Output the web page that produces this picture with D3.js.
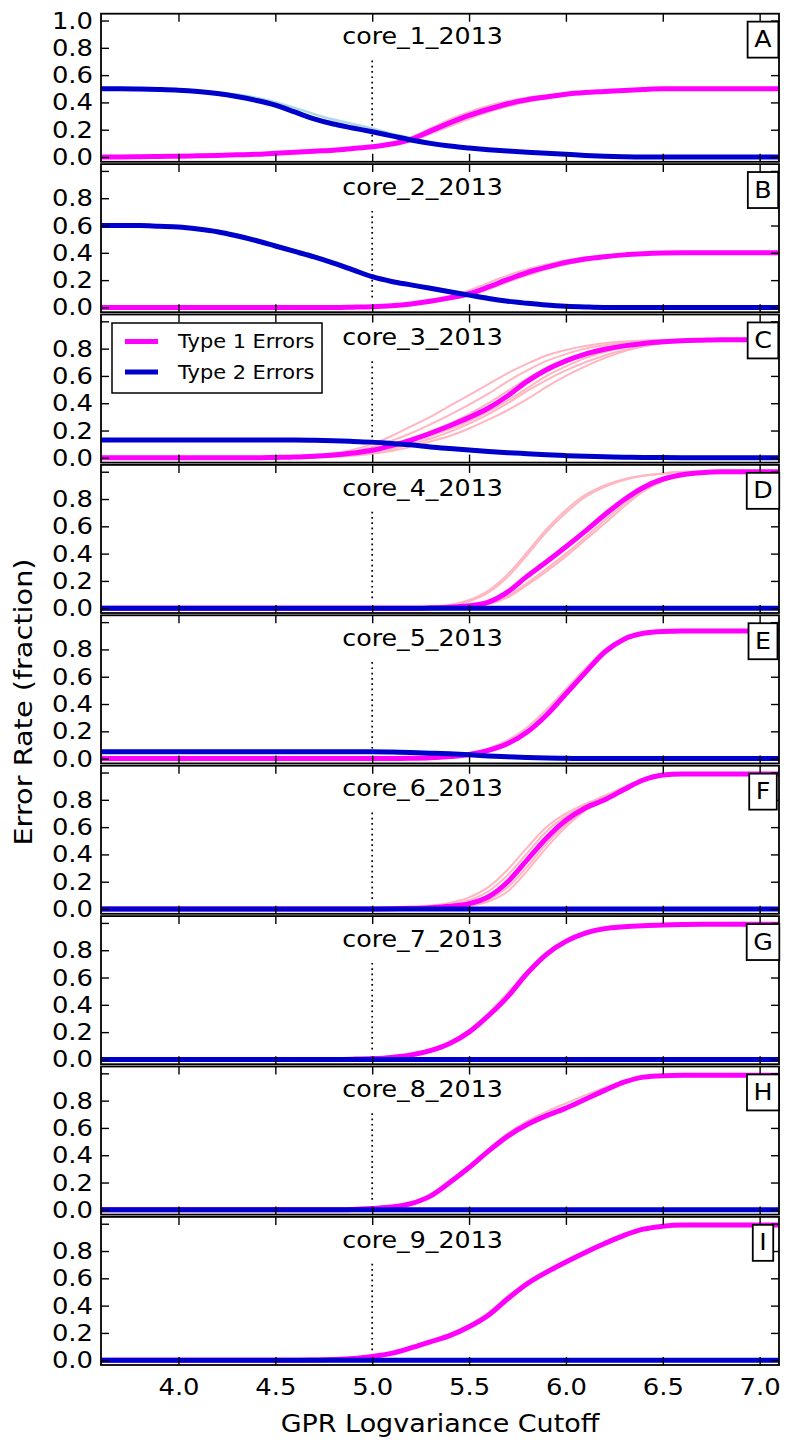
<!DOCTYPE html>
<html><head><meta charset="utf-8">
<script src="https://cdn.jsdelivr.net/npm/d3@7"></script>
<style>body{margin:0;background:#fff} text{font-family:"DejaVu Sans","Bitstream Vera Sans",sans-serif;fill:#000}</style>
</head><body><svg id="c" width="787" height="1445"></svg>
<script>
// ---------------- DATA ----------------
const xs = [3.6,3.7,3.8,3.9,4.0,4.1,4.2,4.3,4.4,4.5,4.6,4.7,4.8,4.9,5.0,5.1,5.2,5.3,5.4,5.5,5.6,5.7,5.8,5.9,6.0,6.1,6.2,6.3,6.4,6.5,6.6,6.7,6.8,6.9,7.0,7.1];
const panelTitles = ["core_1_2013","core_2_2013","core_3_2013","core_4_2013","core_5_2013","core_6_2013","core_7_2013","core_8_2013","core_9_2013"];
const panelLetters = ["A","B","C","D","E","F","G","H","I"];
const yTicks = [0,0.2,0.4,0.6,0.8,1.0];
const xTicks = [4.0,4.5,5.0,5.5,6.0,6.5,7.0];
const cutoff = 5.0;
const legendLabels = ["Type 1 Errors","Type 2 Errors"];
const xLabel = "GPR Logvariance Cutoff";
const yLabel = "Error Rate (fraction)";

// core_1
const core1Type1 = [0,0.001,0.002,0.004,0.006,0.009,0.012,0.016,0.02,0.028,0.035,0.043,0.05,0.062,0.075,0.095,0.13,0.19,0.25,0.305,0.35,0.39,0.42,0.44,0.46,0.472,0.48,0.488,0.495,0.5,0.5,0.5,0.5,0.5,0.5,0.5];
const core1Type2 = [0.5,0.5,0.498,0.495,0.49,0.48,0.465,0.443,0.415,0.38,0.33,0.28,0.242,0.213,0.185,0.155,0.125,0.1,0.08,0.066,0.054,0.044,0.035,0.027,0.02,0.012,0.006,0.002,0,0,0,0,0,0,0,0];
const core1Type1Runs = [
 [0,0.001,0.002,0.004,0.006,0.009,0.012,0.016,0.02,0.028,0.035,0.043,0.05,0.062,0.078,0.1,0.145,0.21,0.275,0.33,0.375,0.41,0.435,0.452,0.466,0.476,0.483,0.49,0.496,0.5,0.5,0.5,0.5,0.5,0.5,0.5],
 [0,0.001,0.002,0.004,0.006,0.009,0.012,0.016,0.02,0.028,0.035,0.043,0.05,0.062,0.074,0.092,0.12,0.17,0.225,0.28,0.33,0.37,0.405,0.43,0.452,0.468,0.478,0.487,0.494,0.5,0.5,0.5,0.5,0.5,0.5,0.5]
];
const core1Type2Runs = [
 [0.5,0.5,0.5,0.497,0.493,0.486,0.474,0.458,0.435,0.402,0.36,0.315,0.275,0.243,0.21,0.172,0.14,0.11,0.088,0.071,0.058,0.047,0.037,0.028,0.02,0.012,0.006,0.002,0,0,0,0,0,0,0,0],
 [0.5,0.5,0.498,0.494,0.488,0.478,0.462,0.44,0.41,0.372,0.322,0.272,0.235,0.207,0.18,0.15,0.12,0.096,0.077,0.063,0.052,0.042,0.034,0.026,0.019,0.011,0.005,0.002,0,0,0,0,0,0,0,0]
];
// core_2
const core2Type1 = [0,0,0,0,0,0,0,0,0,0,0,0,0,0.002,0.005,0.012,0.025,0.045,0.07,0.1,0.15,0.205,0.255,0.295,0.33,0.355,0.372,0.385,0.393,0.398,0.4,0.4,0.4,0.4,0.4,0.4];
const core2Type2 = [0.6,0.6,0.6,0.595,0.59,0.575,0.555,0.525,0.49,0.45,0.41,0.37,0.325,0.275,0.225,0.19,0.165,0.14,0.115,0.09,0.065,0.045,0.03,0.017,0.008,0.003,0,0,0,0,0,0,0,0,0,0];
const core2Type1Runs = [
 [0,0,0,0,0,0,0,0,0,0,0,0,0,0.002,0.006,0.014,0.03,0.055,0.085,0.125,0.18,0.235,0.28,0.315,0.345,0.365,0.38,0.39,0.396,0.399,0.4,0.4,0.4,0.4,0.4,0.4],
 [0,0,0,0,0,0,0,0,0,0,0,0,0,0.002,0.005,0.01,0.02,0.038,0.06,0.09,0.135,0.185,0.235,0.28,0.315,0.345,0.365,0.38,0.39,0.397,0.4,0.4,0.4,0.4,0.4,0.4]
];
const core2Type2Runs = [
 [0.6,0.6,0.6,0.596,0.592,0.578,0.56,0.533,0.5,0.46,0.42,0.38,0.335,0.285,0.235,0.198,0.172,0.148,0.124,0.1,0.075,0.053,0.036,0.021,0.01,0.004,0,0,0,0,0,0,0,0,0,0]
];
// core_3
const core3Type1 = [0,0,0,0,0,0,0,0,0,0.003,0.006,0.012,0.02,0.035,0.055,0.09,0.13,0.18,0.235,0.295,0.365,0.455,0.56,0.645,0.71,0.76,0.795,0.82,0.838,0.85,0.858,0.862,0.865,0.865,0.865,0.865];
const core3Type2 = [0.13,0.13,0.13,0.13,0.13,0.13,0.13,0.13,0.13,0.13,0.13,0.128,0.125,0.12,0.115,0.105,0.095,0.08,0.068,0.057,0.047,0.038,0.03,0.022,0.016,0.011,0.007,0.005,0.003,0.002,0.001,0,0,0,0,0];
const core3Type1Runs = [
 [0,0,0,0,0,0,0,0,0,0,0,0.01,0.03,0.06,0.1,0.16,0.23,0.3,0.38,0.46,0.54,0.62,0.69,0.75,0.79,0.82,0.84,0.852,0.86,0.863,0.865,0.865,0.865,0.865,0.865,0.865],
 [0,0,0,0,0,0,0,0,0,0,0,0.008,0.022,0.045,0.08,0.125,0.18,0.245,0.315,0.39,0.47,0.56,0.64,0.71,0.76,0.8,0.825,0.843,0.855,0.861,0.865,0.865,0.865,0.865,0.865,0.865],
 [0,0,0,0,0,0,0,0,0,0,0,0.003,0.008,0.015,0.03,0.05,0.08,0.12,0.16,0.215,0.28,0.35,0.43,0.52,0.6,0.67,0.73,0.78,0.815,0.84,0.855,0.862,0.865,0.865,0.865,0.865],
 [0,0,0,0,0,0,0,0,0,0,0,0.004,0.01,0.02,0.04,0.065,0.1,0.14,0.19,0.25,0.32,0.4,0.49,0.57,0.64,0.7,0.75,0.79,0.82,0.845,0.857,0.863,0.865,0.865,0.865,0.865],
 [0,0,0,0,0,0,0,0,0,0,0,0.004,0.012,0.025,0.045,0.075,0.115,0.16,0.21,0.27,0.34,0.42,0.51,0.6,0.67,0.73,0.775,0.81,0.835,0.85,0.858,0.863,0.865,0.865,0.865,0.865],
 [0,0,0,0,0,0,0,0,0,0,0,0.005,0.015,0.03,0.055,0.09,0.135,0.19,0.25,0.32,0.4,0.49,0.58,0.66,0.72,0.77,0.805,0.83,0.847,0.857,0.862,0.865,0.865,0.865,0.865,0.865]
];
const core3Type2Runs = [
 [0.132,0.132,0.132,0.132,0.132,0.132,0.132,0.132,0.132,0.132,0.132,0.13,0.127,0.123,0.118,0.11,0.1,0.087,0.075,0.064,0.054,0.044,0.035,0.026,0.019,0.013,0.008,0.005,0.003,0.002,0.001,0,0,0,0,0]
];
// core_4
const core4Type1 = [0,0,0,0,0,0,0,0,0,0,0,0,0,0,0,0,0,0.003,0.008,0.018,0.045,0.12,0.235,0.34,0.45,0.565,0.685,0.795,0.885,0.945,0.978,0.993,1,1,1,1];
const core4Type2 = [0,0,0,0,0,0,0,0,0,0,0,0,0,0,0,0,0,0,0,0,0,0,0,0,0,0,0,0,0,0,0,0,0,0,0,0];
const core4Type1Runs = [
 [0,0,0,0,0,0,0,0,0,0,0,0,0,0,0,0,0.003,0.01,0.025,0.06,0.13,0.25,0.41,0.58,0.72,0.83,0.9,0.945,0.972,0.988,1,1,1,1,1,1],
 [0,0,0,0,0,0,0,0,0,0,0,0,0,0,0,0,0.002,0.008,0.02,0.05,0.115,0.23,0.39,0.56,0.7,0.815,0.89,0.94,0.97,0.986,1,1,1,1,1,1],
 [0,0,0,0,0,0,0,0,0,0,0,0,0,0,0,0,0,0,0.003,0.01,0.03,0.08,0.17,0.27,0.38,0.5,0.62,0.745,0.855,0.93,0.97,0.99,1,1,1,1],
 [0,0,0,0,0,0,0,0,0,0,0,0,0,0,0,0,0,0,0.004,0.012,0.035,0.09,0.185,0.29,0.4,0.52,0.645,0.765,0.87,0.94,0.975,0.992,1,1,1,1]
];
const core4Type2Runs = [
 [0.004,0.004,0.004,0.004,0.004,0.004,0.004,0.004,0.004,0.004,0.004,0.004,0.004,0.004,0.004,0.004,0.004,0.004,0.004,0.004,0.004,0.004,0.004,0.004,0.004,0.004,0.004,0.004,0.004,0.004,0.004,0.004,0.004,0.004,0.004,0.004]
];
// core_5
const core5Type1 = [0,0,0,0,0,0,0,0,0,0,0,0,0,0,0,0,0.002,0.006,0.015,0.03,0.06,0.11,0.195,0.32,0.475,0.63,0.78,0.875,0.918,0.932,0.935,0.935,0.935,0.935,0.935,0.935];
const core5Type2 = [0.05,0.05,0.05,0.05,0.05,0.05,0.05,0.05,0.05,0.05,0.05,0.05,0.05,0.05,0.05,0.048,0.045,0.04,0.035,0.028,0.02,0.013,0.008,0.004,0.002,0,0,0,0,0,0,0,0,0,0,0];
const core5Type1Runs = [
 [0,0,0,0,0,0,0,0,0,0,0,0,0,0,0,0,0.003,0.008,0.02,0.04,0.075,0.135,0.23,0.36,0.51,0.66,0.8,0.88,0.92,0.933,0.935,0.935,0.935,0.935,0.935,0.935]
];
const core5Type2Runs = [
 [0.053,0.053,0.053,0.053,0.053,0.053,0.053,0.053,0.053,0.053,0.053,0.053,0.053,0.053,0.053,0.051,0.048,0.043,0.037,0.03,0.022,0.015,0.009,0.005,0.002,0,0,0,0,0,0,0,0,0,0,0]
];
// core_6
const core6Type1 = [0,0,0,0,0,0,0,0,0,0,0,0,0,0,0,0.002,0.005,0.01,0.02,0.04,0.09,0.2,0.36,0.52,0.65,0.74,0.8,0.875,0.945,0.982,0.99,0.99,0.99,0.99,0.99,0.99];
const core6Type2 = [0,0,0,0,0,0,0,0,0,0,0,0,0,0,0,0,0,0,0,0,0,0,0,0,0,0,0,0,0,0,0,0,0,0,0,0];
const core6Type1Runs = [
 [0,0,0,0,0,0,0,0,0,0,0,0,0,0,0.002,0.005,0.012,0.025,0.045,0.085,0.16,0.29,0.45,0.6,0.7,0.77,0.83,0.895,0.955,0.985,0.99,0.99,0.99,0.99,0.99,0.99],
 [0,0,0,0,0,0,0,0,0,0,0,0,0,0,0.001,0.004,0.009,0.018,0.035,0.065,0.13,0.25,0.41,0.57,0.68,0.76,0.82,0.885,0.95,0.984,0.99,0.99,0.99,0.99,0.99,0.99],
 [0,0,0,0,0,0,0,0,0,0,0,0,0,0,0,0.001,0.003,0.006,0.012,0.025,0.055,0.13,0.28,0.45,0.6,0.72,0.79,0.865,0.94,0.98,0.99,0.99,0.99,0.99,0.99,0.99],
 [0,0,0,0,0,0,0,0,0,0,0,0,0,0,0,0.001,0.004,0.008,0.016,0.032,0.07,0.16,0.31,0.48,0.62,0.73,0.795,0.87,0.942,0.981,0.99,0.99,0.99,0.99,0.99,0.99]
];
const core6Type2Runs = [
 [0.004,0.004,0.004,0.004,0.004,0.004,0.004,0.004,0.004,0.004,0.004,0.004,0.004,0.004,0.004,0.004,0.004,0.004,0.004,0.004,0.004,0.004,0.004,0.004,0.004,0.004,0.004,0.004,0.004,0.004,0.004,0.004,0.004,0.004,0.004,0.004]
];
// core_7
const core7Type1 = [0,0,0,0,0,0,0,0,0,0,0,0,0,0.002,0.006,0.015,0.033,0.065,0.117,0.2,0.32,0.46,0.63,0.77,0.865,0.925,0.958,0.972,0.98,0.985,0.988,0.99,0.99,0.99,0.99,0.99];
const core7Type2 = [0,0,0,0,0,0,0,0,0,0,0,0,0,0,0,0,0,0,0,0,0,0,0,0,0,0,0,0,0,0,0,0,0,0,0,0];
const core7Type1Runs = [
 [0,0,0,0,0,0,0,0,0,0,0,0,0,0.003,0.008,0.018,0.038,0.072,0.125,0.215,0.34,0.49,0.65,0.785,0.875,0.93,0.96,0.973,0.98,0.985,0.988,0.99,0.99,0.99,0.99,0.99]
];
const core7Type2Runs = [
 [0.004,0.004,0.004,0.004,0.004,0.004,0.004,0.004,0.004,0.004,0.004,0.004,0.004,0.004,0.004,0.004,0.004,0.004,0.004,0.004,0.004,0.004,0.004,0.004,0.004,0.004,0.004,0.004,0.004,0.004,0.004,0.004,0.004,0.004,0.004,0.004]
];
// core_8
const core8Type1 = [0,0,0,0,0,0,0,0,0,0,0,0,0,0.003,0.01,0.02,0.045,0.1,0.2,0.31,0.43,0.54,0.625,0.69,0.745,0.81,0.875,0.935,0.972,0.983,0.985,0.985,0.985,0.985,0.985,0.985];
const core8Type2 = [0,0,0,0,0,0,0,0,0,0,0,0,0,0,0,0,0,0,0,0,0,0,0,0,0,0,0,0,0,0,0,0,0,0,0,0];
const core8Type1Runs = [
 [0,0,0,0,0,0,0,0,0,0,0,0,0,0.003,0.01,0.022,0.05,0.105,0.21,0.32,0.445,0.56,0.65,0.72,0.78,0.84,0.895,0.945,0.975,0.984,0.985,0.985,0.985,0.985,0.985,0.985]
];
const core8Type2Runs = [
 [0.004,0.004,0.004,0.004,0.004,0.004,0.004,0.004,0.004,0.004,0.004,0.004,0.004,0.004,0.004,0.004,0.004,0.004,0.004,0.004,0.004,0.004,0.004,0.004,0.004,0.004,0.004,0.004,0.004,0.004,0.004,0.004,0.004,0.004,0.004,0.004]
];
// core_9
const core9Type1 = [0,0,0,0,0,0,0,0,0,0,0,0.002,0.005,0.012,0.028,0.05,0.09,0.135,0.18,0.245,0.33,0.45,0.56,0.645,0.72,0.79,0.855,0.915,0.96,0.982,0.99,0.99,0.99,0.99,0.99,0.99];
const core9Type2 = [0,0,0,0,0,0,0,0,0,0,0,0,0,0,0,0,0,0,0,0,0,0,0,0,0,0,0,0,0,0,0,0,0,0,0,0];
const core9Type1Runs = [
 [0,0,0,0,0,0,0,0,0,0,0,0.002,0.006,0.014,0.03,0.055,0.095,0.14,0.19,0.26,0.35,0.47,0.575,0.655,0.73,0.8,0.865,0.922,0.963,0.983,0.99,0.99,0.99,0.99,0.99,0.99]
];
const core9Type2Runs = [
 [0.004,0.004,0.004,0.004,0.004,0.004,0.004,0.004,0.004,0.004,0.004,0.004,0.004,0.004,0.004,0.004,0.004,0.004,0.004,0.004,0.004,0.004,0.004,0.004,0.004,0.004,0.004,0.004,0.004,0.004,0.004,0.004,0.004,0.004,0.004,0.004]
];

const panels = [
 {t1:core1Type1,t2:core1Type2,r1:core1Type1Runs,r2:core1Type2Runs},
 {t1:core2Type1,t2:core2Type2,r1:core2Type1Runs,r2:core2Type2Runs},
 {t1:core3Type1,t2:core3Type2,r1:core3Type1Runs,r2:core3Type2Runs},
 {t1:core4Type1,t2:core4Type2,r1:core4Type1Runs,r2:core4Type2Runs},
 {t1:core5Type1,t2:core5Type2,r1:core5Type1Runs,r2:core5Type2Runs},
 {t1:core6Type1,t2:core6Type2,r1:core6Type1Runs,r2:core6Type2Runs},
 {t1:core7Type1,t2:core7Type2,r1:core7Type1Runs,r2:core7Type2Runs},
 {t1:core8Type1,t2:core8Type2,r1:core8Type1Runs,r2:core8Type2Runs},
 {t1:core9Type1,t2:core9Type2,r1:core9Type1Runs,r2:core9Type2Runs}
];

// ---------------- LAYOUT / STYLE ----------------
const C_T1 = "#ff00ff", C_T2 = "#0000cc", C_T1RUN = "#ffb6c1", C_T2RUN = "#add8e6";
const left = 101, right = 779;
const top0 = 13.7, pitch = 150.4, ph = 148.1;
const yDomain = [-0.035, 1.05];
const SX = 1.1; // horizontal text stretch seen in the reference
const FONT = 23;
const TICKFONT = 23.5;

const svg = d3.select("#c");
const x = d3.scaleLinear().domain([3.6, 7.1]).range([left, right]);

function stretchText(sel) {
  sel.each(function() {
    const t = d3.select(this);
    const tx = +t.attr("x") || 0, ty = +t.attr("y") || 0;
    t.attr("x", null).attr("y", null)
     .attr("transform", `translate(${tx},${ty}) scale(${SX},1)`);
  });
}

const defs = svg.append("defs");

panels.forEach((p, i) => {
  const top = top0 + i * pitch;
  const y = d3.scaleLinear().domain(yDomain).range([top + ph, top]);
  const g = svg.append("g");
  const cid = "clip" + i;
  defs.append("clipPath").attr("id", cid).append("rect")
    .attr("x", left).attr("y", top).attr("width", right - left).attr("height", ph);
  const plot = g.append("g").attr("clip-path", `url(#${cid})`);

  const line = d3.line().x((d, k) => x(xs[k])).y(d => y(d)).curve(d3.curveMonotoneX);

  // dotted cutoff (axes fraction 0.1 -> 0.7)
  const f2v = f => yDomain[0] + f * (yDomain[1] - yDomain[0]);
  plot.append("line")
    .attr("x1", x(cutoff)).attr("x2", x(cutoff))
    .attr("y1", y(f2v(0.1))).attr("y2", y(f2v(0.7)))
    .attr("stroke", "#000").attr("stroke-width", 1.7).attr("stroke-dasharray", "1.7,3.6");

  p.r1.forEach(r => plot.append("path").attr("d", line(r)).attr("fill", "none")
    .attr("stroke", C_T1RUN).attr("stroke-width", 2));
  p.r2.forEach(r => plot.append("path").attr("d", line(r)).attr("fill", "none")
    .attr("stroke", C_T2RUN).attr("stroke-width", 2.4));
  plot.append("path").attr("d", line(p.t1)).attr("fill", "none")
    .attr("stroke", C_T1).attr("stroke-width", 5);
  plot.append("path").attr("d", line(p.t2)).attr("fill", "none")
    .attr("stroke", C_T2).attr("stroke-width", 5);

  // axes: inward ticks on all sides
  const isLast = i === panels.length - 1;
  const aL = g.append("g").attr("transform", `translate(${left},0)`)
    .call(d3.axisLeft(y).tickValues(yTicks).tickSize(-8).tickPadding(8)
      .tickFormat(d => (i > 0 && d === 1) ? "" : d.toFixed(1)));
  const aR = g.append("g").attr("transform", `translate(${right},0)`)
    .call(d3.axisRight(y).tickValues(yTicks).tickSize(-8).tickFormat(""));
  const aT = g.append("g").attr("transform", `translate(0,${top})`)
    .call(d3.axisTop(x).tickValues(xTicks).tickSize(-8).tickFormat(""));
  const aB = g.append("g").attr("transform", `translate(0,${top + ph})`)
    .call(d3.axisBottom(x).tickValues(xTicks).tickSize(-8).tickPadding(13)
      .tickFormat(d => isLast ? d.toFixed(1) : ""));
  [aL, aR, aT, aB].forEach(a => {
    a.select(".domain").remove();
    a.selectAll("line").attr("stroke", "#000").attr("stroke-width", 1.4);
    a.selectAll("text").attr("font-size", TICKFONT).attr("font-family", "DejaVu Sans");
  });
  aL.selectAll("text").attr("transform", `scale(${SX},1)`).attr("x", -8 / SX);
  aB.selectAll("text").attr("transform", `scale(${SX},1)`);

  // frame
  g.append("rect").attr("x", left).attr("y", top).attr("width", right - left).attr("height", ph)
    .attr("fill", "none").attr("stroke", "#000").attr("stroke-width", 1.8);

  // title
  g.append("text").attr("x", x(5.26)).attr("y", y(0.825)).attr("text-anchor", "middle")
    .attr("font-size", FONT).text(panelTitles[i]).call(stretchText);

  // letter box
  const bh = 36, lcx = 763, lcy = y(0.86);
  const box = g.append("rect").attr("y", lcy - bh / 2).attr("height", bh)
    .attr("fill", "#fff").attr("stroke", "#000").attr("stroke-width", 1.8);
  const lt = g.append("text").attr("x", lcx).attr("y", lcy).attr("text-anchor", "middle")
    .attr("dominant-baseline", "central").attr("font-size", FONT).text(panelLetters[i]).call(stretchText);
  const bw = lt.node().getBBox().width * SX + 13;
  box.attr("x", lcx - bw / 2).attr("width", bw);

  // legend in panel C
  if (i === 2) {
    const lg = g.append("g");
    lg.append("rect").attr("x", 112).attr("y", 323).attr("width", 210).attr("height", 70)
      .attr("fill", "#fff").attr("stroke", "#000").attr("stroke-width", 1.5);
    [[C_T1, 341.5], [C_T2, 372]].forEach(([c, yy], k) => {
      lg.append("line").attr("x1", 125).attr("x2", 158).attr("y1", yy).attr("y2", yy)
        .attr("stroke", c).attr("stroke-width", 5);
      lg.append("text").attr("x", 178).attr("y", yy).attr("dominant-baseline", "central")
        .attr("font-size", 19).text(legendLabels[k]).call(stretchText);
    });
  }
});

// axis titles
svg.append("text").attr("x", (left + right) / 2).attr("y", 1432).attr("text-anchor", "middle")
  .attr("font-size", 24.5).text(xLabel).call(stretchText);
svg.append("text").attr("text-anchor", "middle").attr("font-size", 25)
  .attr("transform", `translate(32,702) rotate(-90) scale(1.15,1)`).text(yLabel);
</script></body></html>
